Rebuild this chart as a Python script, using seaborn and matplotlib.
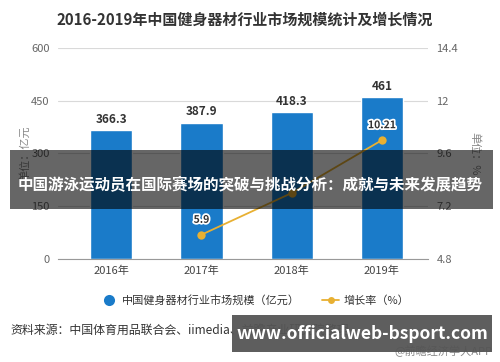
import numpy as np
import pandas as pd
import matplotlib
matplotlib.use('Agg')
import matplotlib.pyplot as plt
import matplotlib.patheffects as pe
from matplotlib.patches import Rectangle
from matplotlib.lines import Line2D
import seaborn as sns

## Data
years = ['2016年', '2017年', '2018年', '2019年']
market_size = [366.3, 387.9, 418.3, 461]
growth_years = ['2017年', '2018年', '2019年']
growth_rate = [5.9, 7.8, 10.21]
growth_labels = ['5.9', '', '10.21']
left_ticks = [0, 150, 300, 450, 600]
right_ticks = [4.8, 7.2, 9.6, 12, 14.4]

sns.set_style('white')
plt.rcParams['font.family'] = ['Noto Sans CJK SC', 'DejaVu Sans']

BarColor = '#1a7bc9'
LineColor = '#e8b032'
TickColor = '#666666'

fig = plt.figure(figsize=(5, 3.62), dpi=100)
ax = fig.add_axes([0.116, 0.285, 0.74, 0.582])

df = pd.DataFrame({'year': years, 'size': market_size})
sns.barplot(data=df, x='year', y='size', color=BarColor, width=0.47,
            saturation=1, ax=ax)
for i, v in enumerate(market_size):
    ax.text(i, v + 12, '{:g}'.format(v), ha='center', va='bottom',
            fontsize=8.5, fontweight='bold', color='#333333')

ax.set_ylim(0, 600)
ax.set_yticks(left_ticks)
ax.set_xlim(-0.59, 3.51)
ax.grid(axis='y', color='#d9d9d9', linewidth=0.8)
ax.set_axisbelow(True)
for s in ['top', 'right', 'left']:
    ax.spines[s].set_visible(False)
ax.spines['bottom'].set_color('#999999')
ax.tick_params(axis='y', length=0, labelsize=8, labelcolor=TickColor, pad=6)
ax.tick_params(axis='x', length=3, color='#999999', labelsize=8,
               labelcolor='#444444', pad=2)
ax.set_xlabel('')
ax.set_ylabel('单位：亿元', fontsize=8, color='#888888', labelpad=1)

ax2 = ax.twinx()
gx = [years.index(y) for y in growth_years]
sns.lineplot(x=gx, y=growth_rate, color=LineColor, linewidth=1.3,
             marker='o', markersize=6, markeredgewidth=0, ax=ax2)
for x, y, t in zip(gx, growth_rate, growth_labels):
    if t:
        ax2.text(x, y + 0.45, t, ha='center', va='bottom', fontsize=7.5,
                 fontweight='bold', color='#333333',
                 path_effects=[pe.withStroke(linewidth=2.5, foreground='white')])
ax2.set_ylim(4.8, 14.4)
ax2.set_yticks(right_ticks)
ax2.set_yticklabels(['{:g}'.format(t) for t in right_ticks])
for s in ['top', 'right', 'left', 'bottom']:
    ax2.spines[s].set_visible(False)
ax2.tick_params(axis='y', length=0, labelsize=8, labelcolor=TickColor, pad=6)
ax2.set_ylabel('单位：%', fontsize=8, color='#888888', rotation=270, labelpad=16)
ax2.set_xlim(-0.59, 3.51)

fig.text(0.49, 0.945, '2016-2019年中国健身器材行业市场规模统计及增长情况',
         ha='center', va='center', fontsize=10.8, fontweight='bold', color='#333333')

## Legend
handles = [Line2D([0], [0], marker='o', color='none', markerfacecolor=BarColor,
                  markeredgewidth=0, markersize=8),
           Line2D([0], [0], marker='o', color=LineColor, markerfacecolor=LineColor,
                  markeredgewidth=0, markersize=5, linewidth=1.3)]
fig.legend(handles, ['中国健身器材行业市场规模（亿元）', '增长率（%）'],
           loc='center', bbox_to_anchor=(0.51, 0.17), ncol=2, frameon=False,
           fontsize=8, columnspacing=2.0, handlelength=1.5, handletextpad=0.4,
           labelcolor='#333333')

fig.text(0.02, 0.088, '资料来源：中国体育用品联合会、iimedia、前瞻产业研究院整理',
         ha='left', va='center', fontsize=8.6, color='#333333')
fig.text(0.985, 0.03, '@前瞻经济学人APP', ha='right', va='center',
         fontsize=8, color='#888888')

## Overlays
fig.patches.append(Rectangle((0.02, 1 - 209 / 362), 0.965, 59 / 362,
                             transform=fig.transFigure, facecolor='black',
                             alpha=0.6, edgecolor='none', zorder=5))
fig.text(0.5, 1 - 185 / 362, '中国游泳运动员在国际赛场的突破与挑战分析：成就与未来发展趋势',
         ha='center', va='center', fontsize=11.2, fontweight='bold',
         color='white', zorder=6)
fig.patches.append(Rectangle((232 / 500, 1 - 352 / 362), 260 / 500, 37 / 362,
                             transform=fig.transFigure, facecolor='#555555',
                             alpha=0.95, edgecolor='none', zorder=5))
fig.text(362 / 500, 1 - 334 / 362, 'www.officialweb-bsport.com',
         ha='center', va='center', fontsize=12.5, fontweight='bold',
         color='white', zorder=6)

plt.savefig('out.png', dpi=100, facecolor='white')
